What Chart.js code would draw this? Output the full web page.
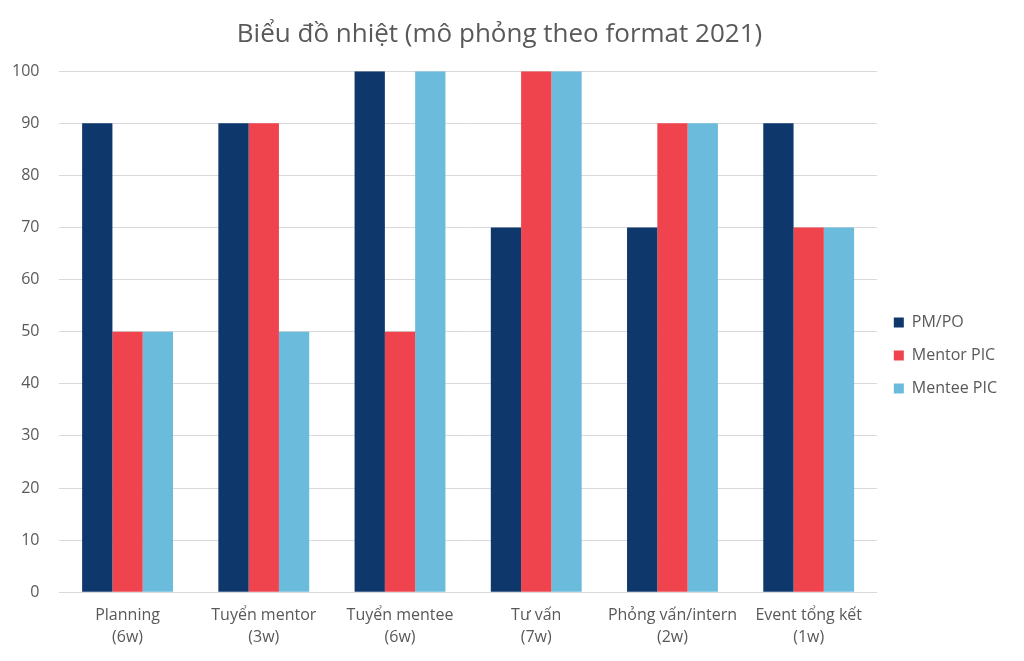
<!DOCTYPE html>
<html>
<head>
<meta charset="utf-8">
<script src="https://cdn.jsdelivr.net/npm/chart.js@4"></script>
<style>
  body { margin: 0; background: #fff; }
  #wrap { width: 1024px; height: 661px; }
</style>
</head>
<body>
<div id="wrap"><canvas id="myChart" width="1024" height="661"></canvas></div>
<script>
var categories = [
    ['Planning', '(6w)'],
    ['Tuyển mentor', '(3w)'],
    ['Tuyển mentee', '(6w)'],
    ['Tư vấn', '(7w)'],
    ['Phỏng vấn/intern', '(2w)'],
    ['Event tổng kết', '(1w)']
];
var pmPoData = [90, 90, 100, 70, 70, 90];
var mentorPicData = [50, 90, 50, 100, 90, 70];
var menteePicData = [50, 50, 100, 100, 90, 70];

var fontFamily = "'Open Sans', sans-serif";
var textColor = '#595959';

var ctx = document.getElementById('myChart').getContext('2d');

var chart = new Chart(ctx, {
    type: 'bar',
    data: {
        labels: categories,
        datasets: [{
            label: 'PM/PO',
            data: pmPoData,
            backgroundColor: '#0e376b'
        }, {
            label: 'Mentor PIC',
            data: mentorPicData,
            backgroundColor: '#ef444d'
        }, {
            label: 'Mentee PIC',
            data: menteePicData,
            backgroundColor: '#6bbbdc'
        }]
    },
    options: {
        responsive: false,
        animation: false,
        categoryPercentage: 0.667,
        barPercentage: 1,
        layout: {
            padding: { top: 19, right: 17, left: -8, bottom: 8 }
        },
        plugins: {
            title: {
                display: true,
                text: 'Biểu đồ nhiệt (mô phỏng theo format 2021)',
                color: textColor,
                font: { family: fontFamily, size: 26, weight: 'normal' },
                padding: { top: 0, bottom: 21 }
            },
            legend: {
                position: 'right',
                // empty title only pushes the legend items a bit lower
                title: {
                    display: true,
                    text: ' ',
                    font: { size: 1 },
                    padding: { top: 19, bottom: 19 }
                },
                labels: {
                    boxWidth: 10,
                    boxHeight: 10,
                    padding: 17,
                    color: textColor,
                    font: { family: fontFamily, size: 16 }
                }
            },
            tooltip: { enabled: false }
        },
        scales: {
            x: {
                grid: { display: false },
                border: { color: '#d9d9d9' },
                ticks: {
                    autoSkip: false,
                    color: textColor,
                    font: { family: fontFamily, size: 16, lineHeight: 1.4 },
                    maxRotation: 0,
                    padding: 4
                }
            },
            y: {
                min: 0,
                max: 100,
                ticks: {
                    stepSize: 10,
                    color: textColor,
                    font: { family: fontFamily, size: 16 },
                    padding: 20
                },
                grid: { color: '#d9d9d9', drawTicks: false },
                border: { display: false }
            }
        }
    }
});
</script>
</body>
</html>
